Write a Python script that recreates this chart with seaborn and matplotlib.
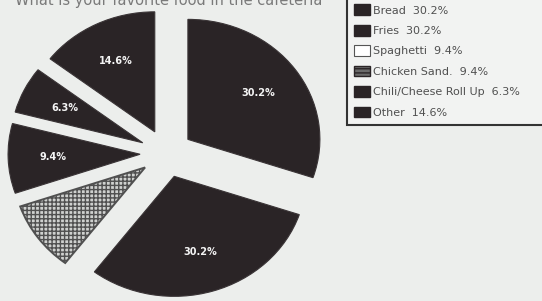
import matplotlib.pyplot as plt
import matplotlib.patches as mpatches
import seaborn as sns

foods = ['Bread', 'Fries', 'Spaghetti', 'Chicken Sand.', 'Chili/Cheese Roll Up', 'Other']
shares = [30.2, 30.2, 9.4, 9.4, 6.3, 14.6]
legend_text = ['Bread  30.2%', 'Fries  30.2%', 'Spaghetti  9.4%', 'Chicken Sand.  9.4%',
               'Chili/Cheese Roll Up  6.3%', 'Other  14.6%']
title = 'What is your favorite food in the cafeteria'

sns.set_theme(style='white')
plt.rcParams['font.family'] = ['DejaVu Sans']

bg = '#eceeec'
dark = '#2a2426'
light = '#cfd1cf'

fig = plt.figure(figsize=(5.42, 3.01), dpi=100, facecolor=bg)
ax = fig.add_axes([0, 0, 1, 1])
ax.set_facecolor(bg)

colors = [dark, dark, light, dark, dark, dark]
wedges, texts, autotexts = ax.pie(
    shares, colors=colors, startangle=90, counterclock=False,
    explode=[0.2] * len(shares), autopct='%.1f%%', pctdistance=0.66,
    wedgeprops=dict(edgecolor='#3a3436', linewidth=0.8),
    textprops=dict(color='#f4f4f4', fontsize=7, fontweight='semibold'))
wedges[2].set_hatch('++++')
wedges[2].set_edgecolor('#505050')
wedges[2].set_linewidth(1.4)
autotexts[2].set_visible(False)

# pie is a bit wider than tall in the scan
ax.set_aspect('auto')
ax.set_xlim(-1.261, 2.845)
ax.set_ylim(-1.23, 1.278)
ax.axis('off')

# question text is cut off at the top of the scan
fig.text(15 / 542, 1.0, title, fontsize=10.5, color='#7a7a7a', va='center', ha='left')

handles = []
for f in foods:
    if f == 'Spaghetti':
        handles.append(mpatches.Patch(facecolor='white', edgecolor='#555555', linewidth=0.8))
    elif f == 'Chicken Sand.':
        handles.append(mpatches.Patch(facecolor='#6a6a6a', edgecolor=dark, hatch='----', linewidth=1))
    else:
        handles.append(mpatches.Patch(facecolor=dark, edgecolor=dark))

leg = fig.legend(handles, legend_text, loc='lower left',
                 bbox_to_anchor=(347 / 542, 1 - 125 / 301, 0.4, 0.5), mode='expand',
                 fontsize=8, labelspacing=0.84, handlelength=1.45, handleheight=1.1,
                 handletextpad=0.25, borderpad=0.65, borderaxespad=0, fancybox=False,
                 frameon=True, facecolor='#f2f3f2', edgecolor='#333333', framealpha=1)
leg.get_frame().set_linewidth(1.5)
for t in leg.get_texts():
    t.set_color('#505050')

fig.savefig('out.png', dpi=100, facecolor=bg)
